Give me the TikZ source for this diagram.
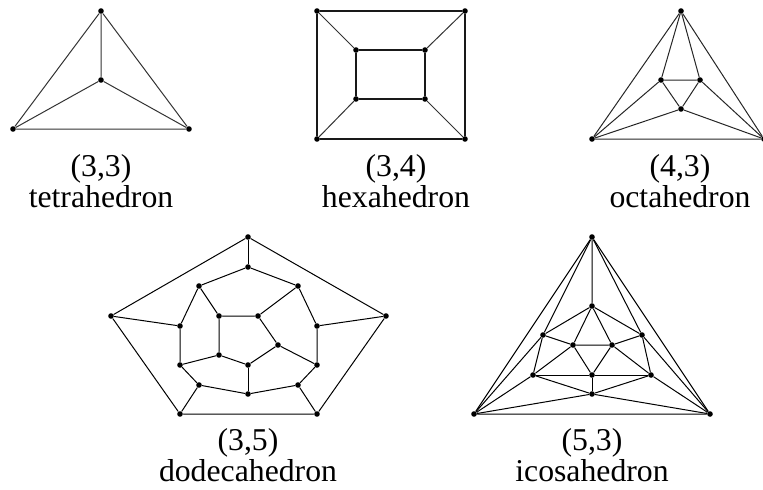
\documentclass[tikz,border=0pt]{standalone}
\usepackage{fontspec}
\setmainfont{Liberation Serif}
\usepackage{tikz}
\begin{document}
\begin{tikzpicture}[x=0.75pt,y=-0.75pt,line cap=round,line width=0.75pt,
  vertex/.style={circle,fill=black,inner sep=0pt,minimum size=4.2pt},
  caption/.style={align=center,inner sep=0pt,font=\fontsize{23.8}{23}\selectfont}]
\useasboundingbox (0,0) rectangle (763,489);
% tetrahedron
\node[vertex] (t1) at (101,11) {};
\node[vertex] (t2) at (101,80) {};
\node[vertex] (t3) at (13,129) {};
\node[vertex] (t4) at (189,129) {};
\draw[black!80] (t1) -- (t3) -- (t4) -- (t1) -- (t2);
\draw[black!80] (t3) -- (t2) -- (t4);
\node[caption] (tcap) at (101,181) {(3,3)\\tetrahedron};
% hexahedron
\node[vertex] (h1) at (317,11) {};
\node[vertex] (h2) at (465,11) {};
\node[vertex] (h3) at (465,139) {};
\node[vertex] (h4) at (317,139) {};
\node[vertex] (h5) at (356,50) {};
\node[vertex] (h6) at (425,50) {};
\node[vertex] (h7) at (425,99) {};
\node[vertex] (h8) at (356,99) {};
\draw[line width=1.3pt,black!90] (h1) -- (h2) -- (h3) -- (h4) -- (h1);
\draw[line width=1.3pt,black!90] (h5) -- (h6) -- (h7) -- (h8) -- (h5);
\draw[black!80] (h1) -- (h5);
\draw[black!80] (h2) -- (h6);
\draw[black!80] (h3) -- (h7);
\draw[black!80] (h4) -- (h8);
\node[caption] (hcap) at (396,181) {(3,4)\\hexahedron};
% octahedron
\node[vertex] (o1) at (681,11) {};
\node[vertex] (o2) at (592,139) {};
\node[vertex] (o3) at (764,139) {};
\node[vertex] (o4) at (661,80) {};
\node[vertex] (o5) at (700,80) {};
\node[vertex] (o6) at (681,109) {};
\draw[black!85] (o1) -- (o2) -- (o3) -- (o1);
\draw[black!85] (o4) -- (o5) -- (o6) -- (o4);
\draw[black!85] (o1) -- (o4) -- (o2) -- (o6) -- (o3) -- (o5) -- (o1);
\node[caption] (ocap) at (680,181) {(4,3)\\octahedron};
% dodecahedron
\node[vertex] (d1) at (248,237) {};
\node[vertex] (d2) at (386,316) {};
\node[vertex] (d3) at (317,414) {};
\node[vertex] (d4) at (180,414) {};
\node[vertex] (d5) at (111,316) {};
\node[vertex] (d6) at (248,267) {};
\node[vertex] (d7) at (298,286) {};
\node[vertex] (d8) at (317,326) {};
\node[vertex] (d9) at (317,365) {};
\node[vertex] (d10) at (298,385) {};
\node[vertex] (d11) at (248,394) {};
\node[vertex] (d12) at (199,385) {};
\node[vertex] (d13) at (180,365) {};
\node[vertex] (d14) at (180,326) {};
\node[vertex] (d15) at (199,286) {};
\node[vertex] (d16) at (219,316) {};
\node[vertex] (d17) at (258,316) {};
\node[vertex] (d18) at (278,345) {};
\node[vertex] (d19) at (248,365) {};
\node[vertex] (d20) at (219,355) {};
\draw (d1) -- (d2) -- (d3) -- (d4) -- (d5) -- (d1);
\draw (d6) -- (d7) -- (d8) -- (d9) -- (d10) -- (d11) -- (d12) -- (d13) -- (d14) -- (d15) -- (d6);
\draw (d16) -- (d17) -- (d18) -- (d19) -- (d20) -- (d16);
\draw (d1) -- (d6);
\draw (d2) -- (d8);
\draw (d3) -- (d10);
\draw (d4) -- (d12);
\draw (d5) -- (d14);
\draw (d15) -- (d16);
\draw (d7) -- (d17);
\draw (d9) -- (d18);
\draw (d11) -- (d19);
\draw (d13) -- (d20);
\node[caption] (dcap) at (248,455) {(3,5)\\dodecahedron};
% icosahedron
\node[vertex] (i1) at (592,237) {};
\node[vertex] (i2) at (474,414) {};
\node[vertex] (i3) at (710,414) {};
\node[vertex] (i4) at (592,306) {};
\node[vertex] (i5) at (543,335) {};
\node[vertex] (i6) at (642,335) {};
\node[vertex] (i7) at (573,345) {};
\node[vertex] (i8) at (612,345) {};
\node[vertex] (i9) at (533,375) {};
\node[vertex] (i10) at (651,375) {};
\node[vertex] (i11) at (592,375) {};
\node[vertex] (i12) at (592,394) {};
\draw (i1) -- (i2) -- (i3) -- (i1) -- (i4);
\draw (i2) -- (i5) -- (i1) -- (i6) -- (i3);
\draw (i2) -- (i9) -- (i12) -- (i10) -- (i3) -- (i12) -- (i2);
\draw (i4) -- (i5) -- (i7) -- (i4) -- (i6) -- (i8) -- (i4);
\draw (i5) -- (i9) -- (i7) -- (i8) -- (i10) -- (i6);
\draw (i9) -- (i11) -- (i10);
\draw (i7) -- (i11) -- (i8);
\draw (i11) -- (i12);
\node[caption] (icap) at (592,455) {(5,3)\\icosahedron};
\end{tikzpicture}
\end{document}
